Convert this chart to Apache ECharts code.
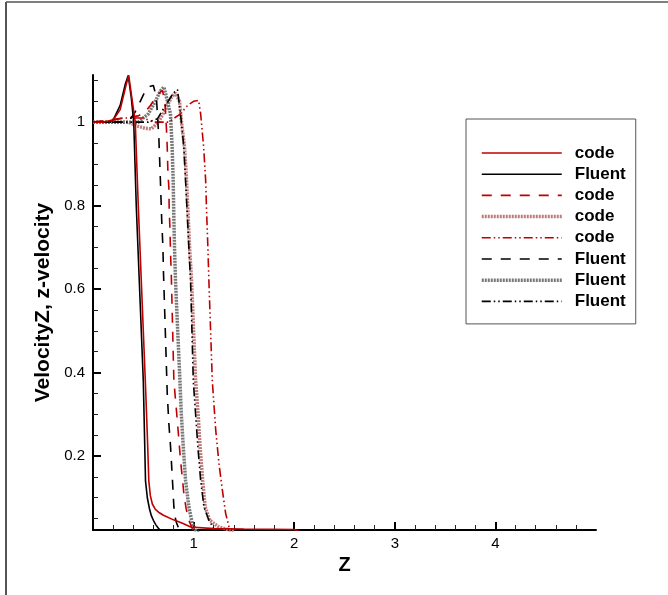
<!DOCTYPE html>
<html>
<head>
<meta charset="utf-8">
<script src="https://cdn.jsdelivr.net/npm/echarts@6/dist/echarts.min.js"></script>
<style>html,body{margin:0;padding:0;background:#fff;}#c{width:668px;height:595px;}</style>
</head>
<body>
<div id="c"></div>
<script>
// ---- data: [Z, VelocityZ] ----
const codeSolid = [[0,1.0],[0.1,1.0],[0.2,1.005],[0.27,1.03],[0.33,1.09],[0.355,1.112],[0.385,1.06],[0.42,1.0],[0.45,0.8],[0.48,0.62],[0.52,0.38],[0.54,0.25],[0.555,0.14],[0.57,0.105],[0.59,0.085],[0.62,0.072],[0.66,0.064],[0.70,0.058],[0.80,0.047],[0.89,0.039],[0.97,0.03],[1.2,0.026],[1.5,0.025],[2.0,0.024],[2.05,0.02]];
const fluentSolid = [[0,1.0],[0.15,1.0],[0.2,1.005],[0.27,1.04],[0.32,1.09],[0.35,1.112],[0.38,1.06],[0.405,1.0],[0.43,0.8],[0.46,0.62],[0.50,0.38],[0.512,0.25],[0.522,0.14],[0.54,0.10],[0.56,0.075],[0.58,0.057],[0.60,0.046],[0.625,0.035],[0.65,0.027],[0.69,0.017]];
const codeDashed = [[0,1.0],[0.15,1.005],[0.3,1.01],[0.45,1.015],[0.52,1.025],[0.57,1.04],[0.62,1.058],[0.66,1.07],[0.69,1.076],[0.715,1.05],[0.731,0.98],[0.738,0.94],[0.745,0.876],[0.754,0.844],[0.757,0.796],[0.764,0.75],[0.771,0.685],[0.778,0.637],[0.804,0.38],[0.821,0.333],[0.838,0.285],[0.854,0.238],[0.870,0.19],[0.887,0.15],[0.903,0.11],[0.925,0.075],[0.953,0.046],[0.987,0.026],[1.02,0.015]];
const codeDotted = [[0,1.0],[0.2,1.0],[0.35,1.0],[0.45,0.99],[0.52,0.985],[0.58,0.984],[0.65,1.0],[0.72,1.03],[0.78,1.06],[0.82,1.07],[0.86,1.05],[0.88,1.0],[0.91,0.94],[0.93,0.86],[0.945,0.78],[0.96,0.70],[0.98,0.62],[1.02,0.38],[1.045,0.30],[1.065,0.22],[1.09,0.142],[1.115,0.078],[1.16,0.046],[1.25,0.03],[1.4,0.02]];
const codeDashDot = [[0,1.0],[0.1,1.0],[0.3,1.01],[0.5,1.01],[0.6,1.0],[0.75,1.0],[0.87,1.02],[0.94,1.04],[1.0,1.05],[1.05,1.052],[1.07,1.02],[1.10,0.94],[1.12,0.86],[1.13,0.78],[1.142,0.70],[1.152,0.62],[1.186,0.38],[1.22,0.262],[1.252,0.182],[1.286,0.118],[1.319,0.062],[1.352,0.03],[1.37,0.01]];
const fluentDashed = [[0,1.0],[0.3,1.0],[0.38,1.01],[0.42,1.025],[0.47,1.05],[0.52,1.075],[0.56,1.085],[0.6,1.088],[0.63,1.06],[0.655,0.96],[0.67,0.86],[0.683,0.765],[0.695,0.70],[0.70,0.645],[0.738,0.35],[0.754,0.278],[0.771,0.222],[0.788,0.15],[0.804,0.078],[0.815,0.055],[0.83,0.04],[0.85,0.028],[0.87,0.02]];
const fluentDotted = [[0,1.0],[0.3,1.0],[0.45,1.0],[0.55,1.02],[0.62,1.05],[0.67,1.075],[0.705,1.084],[0.74,1.05],[0.77,1.02],[0.787,0.94],[0.797,0.86],[0.803,0.78],[0.81,0.70],[0.82,0.62],[0.864,0.38],[0.878,0.30],[0.898,0.22],[0.92,0.142],[0.953,0.078],[0.987,0.038],[1.02,0.022],[1.05,0.015]];
const fluentDashDot = [[0,1.0],[0.4,1.0],[0.55,1.0],[0.64,1.008],[0.72,1.04],[0.80,1.07],[0.84,1.078],[0.87,1.02],[0.903,0.94],[0.92,0.86],[0.937,0.78],[0.953,0.70],[0.970,0.62],[0.997,0.38],[1.02,0.30],[1.043,0.22],[1.07,0.142],[1.103,0.078],[1.152,0.046],[1.202,0.026],[1.27,0.015]];

// legend labels (zero-width marks keep the repeated labels distinct)
const legendNames = ['code','Fluent','code\u200b','code\u200b\u200b','code\u200b\u200b\u200b','Fluent\u200b','Fluent\u200b\u200b','Fluent\u200b\u200b\u200b'];
const xMajorTicks = [1,2,3,4];
const xMinorTicks = [0.2,0.4,0.6,0.8,1.2,1.4,1.6,1.8,2.2,2.4,2.6,2.8,3.2,3.4,3.6,3.8,4.2,4.4,4.6,4.8];
const yMajorTicks = [0.2,0.4,0.6,0.8,1];
const yMinorTicks = [0.05,0.1,0.15,0.25,0.3,0.35,0.45,0.5,0.55,0.65,0.7,0.75,0.85,0.9,0.95,1.05,1.1];
const xMin = 0, xMax = 5, yMin = 0.0227, yMax = 1.113;

const RED = '#c00000';
const FONT = '"Liberation Sans", Arial, sans-serif';
const dashDot = [9,3,1.5,3,1.5,3];
const dots = [2,1];

function ser(name, data, color, width, type, z) {
  return {name, type:'line', data, symbol:'none', showSymbol:false, clip:true, z:z||2,
    lineStyle:{color, width, type}, itemStyle:{color}, emphasis:{disabled:true}, animation:false};
}

const series = [
  ser(legendNames[0], codeSolid, RED, 1.6, 'solid', 5),
  ser(legendNames[1], fluentSolid, '#000', 1.6, 'solid', 4),
  ser(legendNames[2], codeDashed, RED, 1.6, [10,9], 3),
  ser(legendNames[3], codeDotted, '#bf7b7b', 3.5, dots, 2),
  ser(legendNames[4], codeDashDot, RED, 1.6, dashDot, 3),
  ser(legendNames[5], fluentDashed, '#000', 1.6, [10,9], 3),
  ser(legendNames[6], fluentDotted, '#777777', 3.5, dots, 2),
  ser(legendNames[7], fluentDashDot, '#000', 1.6, dashDot, 3)
];

const chart = echarts.init(document.getElementById('c'), null, {renderer:'canvas'});
chart.setOption({
  backgroundColor:'#fff',
  animation:false,
  grid:{left:93, right:72, top:75, bottom:65, containLabel:false},
  legend:{
    orient:'vertical', left:466, top:119,
    data:legendNames, itemWidth:80, itemHeight:14, itemGap:4.2,
    padding:[25.5,10,14,14], borderColor:'#555', borderWidth:1, backgroundColor:'#fff',
    selectedMode:false,
    itemStyle:{opacity:0, borderWidth:0},
    lineStyle:{width:'inherit', type:'inherit', color:'inherit'},
    textStyle:{fontFamily:FONT, fontSize:17, fontWeight:'bold', color:'#000', padding:[0,0,0,8]}
  },
  xAxis:[
    {type:'value', min:xMin, max:xMax, position:'bottom',
     name:'Z', nameLocation:'middle', nameGap:19,
     nameTextStyle:{fontFamily:FONT, fontSize:20, fontWeight:'bold', color:'#000'},
     axisLine:{show:true, onZero:false, lineStyle:{color:'#000', width:2}},
     axisTick:{show:true, inside:true, length:8, customValues:xMajorTicks, lineStyle:{color:'#000', width:2}},
     axisLabel:{show:true, customValues:xMajorTicks, margin:6, fontFamily:FONT, fontSize:15, color:'#000'},
     splitLine:{show:false}},
    {type:'value', min:xMin, max:xMax, position:'bottom',
     axisLine:{show:false, onZero:false},
     axisTick:{show:true, inside:true, length:5, customValues:xMinorTicks, lineStyle:{color:'#222', width:1}},
     axisLabel:{show:false}, splitLine:{show:false}}
  ],
  yAxis:[
    {type:'value', min:yMin, max:yMax, position:'left',
     name:'VelocityZ, z-velocity', nameLocation:'middle', nameGap:37, nameRotate:90,
     nameTextStyle:{fontFamily:FONT, fontSize:21, fontWeight:'bold', color:'#000'},
     axisLine:{show:true, onZero:false, lineStyle:{color:'#000', width:2}},
     axisTick:{show:true, inside:true, length:8, customValues:yMajorTicks, lineStyle:{color:'#000', width:2}},
     axisLabel:{show:true, customValues:yMajorTicks, margin:8, fontFamily:FONT, fontSize:15, color:'#000'},
     splitLine:{show:false}},
    {type:'value', min:yMin, max:yMax, position:'left',
     axisLine:{show:false, onZero:false},
     axisTick:{show:true, inside:true, length:5, customValues:yMinorTicks, lineStyle:{color:'#222', width:1}},
     axisLabel:{show:false}, splitLine:{show:false}}
  ],
  graphic:[
    {type:'line', shape:{x1:6, y1:2, x2:668, y2:2}, style:{stroke:'#555', lineWidth:1.5}, silent:true},
    {type:'line', shape:{x1:6, y1:2, x2:6, y2:595}, style:{stroke:'#555', lineWidth:2}, silent:true}
  ],
  series
});
</script>
</body>
</html>
